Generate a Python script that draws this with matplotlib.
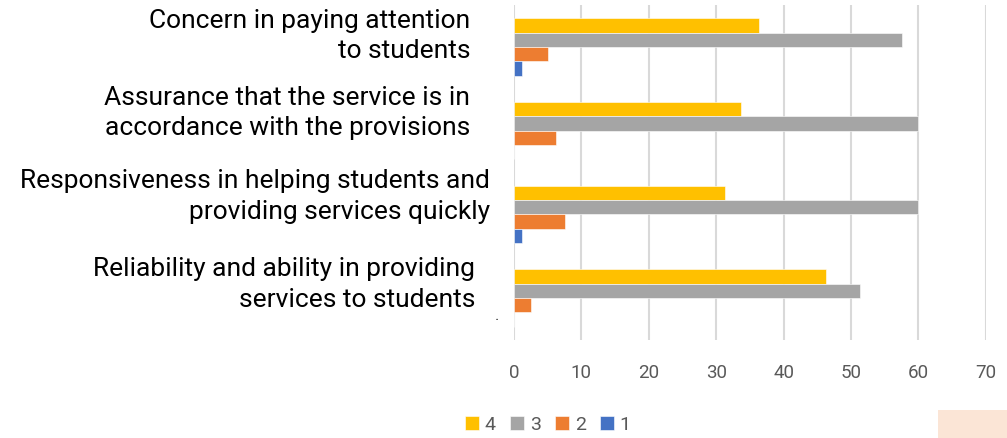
import numpy as np
import matplotlib.pyplot as plt
from matplotlib.patches import Rectangle
from matplotlib.transforms import blended_transform_factory

plt.rcParams['font.family'] = ['Roboto', 'DejaVu Sans']

categories = ['Reliability and ability in providing\nservices to students',
              'Responsiveness in helping students and\nproviding services quickly',
              'Assurance that the service is in\naccordance with the provisions',
              'Concern in paying attention\nto students']
series_names = ['4', '3', '2', '1']
s4 = [46.3, 31.3, 33.7, 36.3]
s3 = [51.3, 60.0, 60.0, 57.6]
s2 = [2.5, 7.5, 6.3, 5.0]
s1 = [0.0, 1.25, 0.0, 1.25]
colors = ['#FFC000', '#A5A5A5', '#ED7D31', '#4472C4']

fig = plt.figure(figsize=(10.07, 4.38), dpi=100)
ax = fig.add_axes([0.5104, 0.2237, 0.4686, 0.7649])

y = np.arange(len(categories))
h = 0.171
offsets = [1.5 * h, 0.5 * h, -0.5 * h, -1.5 * h]
for vals, off, c, name in zip([s4, s3, s2, s1], offsets, colors, series_names):
    ax.barh(y + off, vals, height=h, color=c, edgecolor='white', linewidth=0.4,
            label=name, zorder=3)

ax.set_xlim(0, 70)
ax.set_ylim(-0.5, 3.5)
ax.set_xticks(np.arange(0, 71, 10))
ax.grid(axis='x', color='#D9D9D9', linewidth=1.5, zorder=0)
ax.set_yticks([])
for s in ax.spines.values():
    s.set_visible(False)
ax.tick_params(axis='x', length=0, labelsize=13.5, labelcolor='#595959', pad=17)

# category labels, right edges as in the original
label_x = [475, 490, 470, 470]
label_dy = [0.16, 0.21, 0.21, 0.13]
trans = blended_transform_factory(fig.transFigure, ax.transData)
for i, (lab, lx, dy) in enumerate(zip(categories, label_x, label_dy)):
    ax.text(lx / 1007, i + dy, lab, transform=trans,
            ha='right', va='center', fontsize=19, color='#000000', linespacing=1.36)

fig.text(497 / 1007, 1 - 316 / 438, '.', fontsize=12, color='#404040', ha='center', va='center')

leg = fig.legend(loc='center', bbox_to_anchor=(548 / 1007, 1 - 425 / 438), ncol=4, frameon=False,
                 fontsize=14, handlelength=0.7, handleheight=0.7, handletextpad=0.3,
                 columnspacing=0.75, labelcolor='#595959')

fig.patches.append(Rectangle((938 / 1007, 0), 69 / 1007, 28 / 438, transform=fig.transFigure,
                             facecolor='#FBE5D6', edgecolor='none'))

fig.savefig('out.png', dpi=100)
